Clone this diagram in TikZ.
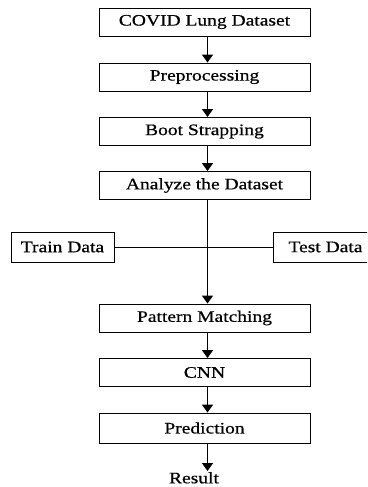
\documentclass[tikz,border=0pt]{standalone}
\usepackage{fontspec}
\setmainfont{Liberation Serif}[FakeStretch=1.22,FakeBold=0.6]
\usetikzlibrary{arrows.meta}

\begin{document}
\begin{tikzpicture}[x=1pt,y=-1pt,font=\fontsize{16}{18}\selectfont,
  stage/.style={draw,line width=0.9pt,minimum width=211pt,minimum height=28pt,inner sep=0pt},
  split/.style={draw,line width=0.9pt,minimum height=30pt,inner sep=0pt},
  flow/.style={line width=1.4pt,-{Triangle[length=8pt,width=11pt]}}]
  \clip (0,0) rectangle (367,487);
  % main column
  \node[stage] (dataset) at (204.5,22) {COVID Lung Dataset};
  \node[stage] (prep) at (204.5,77) {Preprocessing};
  \node[stage] (boot) at (204.5,131.5) {Boot Strapping};
  \node[stage] (analyze) at (204.5,185.5) {Analyze the Dataset};
  \node[stage] (pattern) at (204.5,318) {Pattern Matching};
  \node[stage] (cnn) at (204.5,372.5) {CNN};
  \node[stage,minimum height=30pt] (pred) at (204.5,428) {Prediction};
  \node[anchor=north,inner sep=1pt] (result) at (194,471) {Result};
  % split of the data
  \node[split,minimum width=103pt] (train) at (62.5,247) {Train Data};
  \node[split,minimum width=105pt] (test) at (325.5,247) {Test Data};
  \draw[line width=0.9pt] (train.east) -- (test.west);
  % arrows
  \draw[flow] ([xshift=3pt]dataset.south) -- ([xshift=3pt]prep.north);
  \draw[flow] ([xshift=3pt]prep.south) -- ([xshift=3pt]boot.north);
  \draw[flow] ([xshift=3pt]boot.south) -- ([xshift=3pt]analyze.north);
  \draw[flow] ([xshift=3pt]analyze.south) -- ([xshift=3pt]pattern.north);
  \draw[flow] ([xshift=3pt]pattern.south) -- ([xshift=3pt]cnn.north);
  \draw[flow] ([xshift=3pt]cnn.south) -- ([xshift=3pt]pred.north);
  \draw[flow] ([xshift=3pt]pred.south) -- ([xshift=3pt]pred.south |- result.north);
\end{tikzpicture}
\end{document}
